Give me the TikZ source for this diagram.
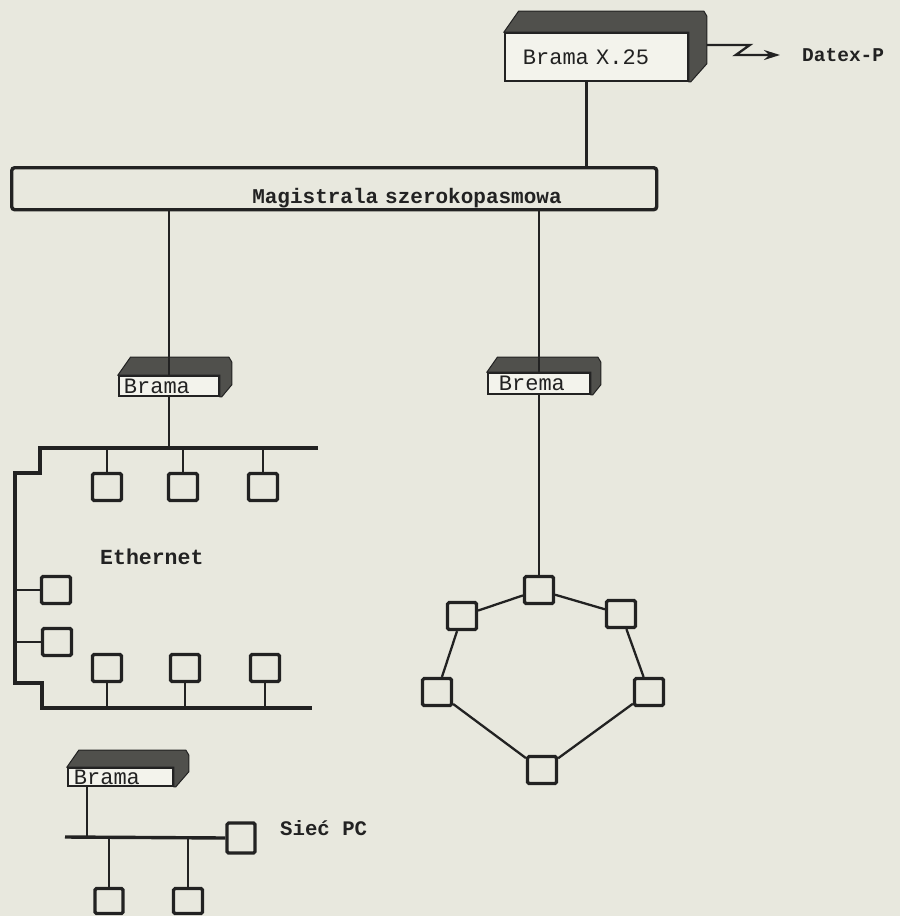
\documentclass[tikz,border=0pt]{standalone}
\usepackage{fontspec}
\setmonofont{Liberation Mono}
\usetikzlibrary{arrows.meta,calc}
\definecolor{paper}{RGB}{232,232,222}
\definecolor{ink}{RGB}{34,34,34}
\definecolor{slabc}{RGB}{80,80,76}
\definecolor{facec}{RGB}{243,243,236}
\newcommand\gateslab[3]{\fill[slab] (#1.north west) -- ++(0.7*#2,-#2) -- ($(#1.north east)+(#3-3,-#2)$) -- ($(#1.north east)+(#3,-#2+5)$) -- ($(#1.south east)+(#3,-#3)$) -- ($(#1.south east)+(2,0)$) -- (#1.south east) -- (#1.north east) -- cycle;}
\begin{document}
\begin{tikzpicture}[x=1pt,y=-1pt,
  sq/.style={draw=ink, fill=paper, line width=3.2pt, rounded corners=1.5pt, minimum width=29pt, minimum height=27pt, inner sep=0pt},
  lan/.style={draw=ink, line width=3.4pt},
  stub/.style={draw=ink, line width=2.3pt},
  ring/.style={draw=ink, line width=2.3pt},
  gate/.style={draw=ink, fill=facec, line width=1.8pt, inner ysep=0pt, anchor=north west, align=left, font=\ttfamily\fontsize{22}{24}\selectfont, text=ink},
  slab/.style={fill=slabc, draw=ink, line width=1pt},
  lbl/.style={font=\ttfamily\bfseries\fontsize{21.5}{24}\selectfont, text=ink, inner sep=0pt},
  busbox/.style={draw=ink, fill=paper, line width=3.4pt, rounded corners=3pt, anchor=north west, minimum width=645pt, minimum height=42pt, inner xsep=95pt, inner ysep=0pt, text width=455pt, align=right, text height=30pt, text depth=0pt, font=\ttfamily\bfseries\fontsize{21}{24}\selectfont, text=ink},
]
\fill[paper] (0,0) rectangle (900,916);
\useasboundingbox (0,0) rectangle (900,916);

% gateways
\node[gate, minimum width=183pt, minimum height=48pt, inner xsep=18pt, text width=147pt] (x25) at (504,32) {Brama X.25};
\gateslab{x25}{21}{18}
\node[gate, minimum height=20pt, inner xsep=5pt, text width=90pt] (lb) at (118,375) {Brama};
\gateslab{lb}{18}{12}
\node[gate, minimum height=21pt, inner xsep=11pt, text width=80pt] (rb) at (487,372) {Brema};
\gateslab{rb}{15}{10}
\node[gate, minimum height=18pt, inner xsep=6pt, text width=93pt] (bb) at (67,767) {Brama};
\gateslab{bb}{17}{15}

% backbone
\node[busbox] (bus) at (10,166) {Magistrala szerokopasmowa};

% Datex-P
\node[lbl, anchor=west, font=\ttfamily\bfseries\fontsize{19.5}{22}\selectfont] (dx) at (802,55) {Datex-P};
\coordinate (zs) at ($(x25.north east)+(18,13)$);
\draw[stub, -{Stealth[length=16pt,width=10pt]}, shorten >=22pt] (zs) -- ++(43,0) -- ++(-14,10) -- (dx.west);

% links to backbone
\coordinate (xc) at ($(x25.south)+(-10,0)$);
\draw[stub] (xc) -- (xc |- bus.north);
\draw[stub] (lb.north) -- (lb.north |- bus.south);
\draw[stub] (rb.north) -- (rb.north |- bus.south);

% Ethernet
\coordinate (etl) at (40,448);
\coordinate (etr) at (318,448);
\coordinate (ebl) at (42,708);
\coordinate (ebr) at (312,708);
\coordinate (ewall) at (15,600);
\draw[lan] (etr) -- (etl) -- (40,473) -- (15,473) -- (15,683) -- (42,683) -- (ebl) -- (ebr);
\draw[stub] (lb.south) -- (lb.south |- etl);
\node[sq] (e1) at (107,487) {};
\node[sq] (e2) at (183,487) {};
\node[sq] (e3) at (263,487) {};
\node[sq] (s1) at (56,590) {};
\node[sq] (s2) at (57,642) {};
\node[sq] (b1) at (107,668) {};
\node[sq] (b2) at (185,668) {};
\node[sq] (b3) at (265,668) {};
\foreach \n in {e1,e2,e3} \draw[stub] (\n.north) -- (\n.north |- etl);
\foreach \n in {b1,b2,b3} \draw[stub] (\n.south) -- (\n.south |- ebl);
\foreach \n in {s1,s2} \draw[stub] (\n.west) -- (\n.west -| ewall);
\node[lbl, anchor=west] (eth) at (100,557) {Ethernet};

% ring
\node[sq] (r0) at (539,590) {};
\node[sq] (r1) at (621,614) {};
\node[sq] (r2) at (649,692) {};
\node[sq] (r3) at (542,770) {};
\node[sq] (r4) at (437,692) {};
\node[sq] (r5) at (462,616) {};
\draw[ring] (r0) -- (r1);
\draw[ring] (r1) -- (r2);
\draw[ring] (r2) -- (r3);
\draw[ring] (r3) -- (r4);
\draw[ring] (r4) -- (r5);
\draw[ring] (r5) -- (r0);
\draw[stub] (rb.south) -- (rb.south |- r0.north);

% PC network
\coordinate (bbl) at ($(bb.south west)+(20,0)$);
\coordinate (pbus) at (65,837);
\node[sq, minimum width=28pt, minimum height=30pt] (pc) at (241,838) {};
\node[sq, minimum width=28pt, minimum height=25pt] (q1) at (109,901) {};
\node[sq, minimum width=29pt, minimum height=25pt] (q2) at (188,901) {};
\draw[lan] (pbus) -- (pc.west);
\draw[stub] (bbl) -- (bbl |- pbus);
\draw[stub] (q1.north) -- (q1.north |- pbus);
\draw[stub] (q2.north) -- (q2.north |- pbus);
\node[lbl, anchor=west, font=\ttfamily\bfseries\fontsize{20.7}{24}\selectfont] (pcl) at (280,828) {Sieć PC};
\end{tikzpicture}
\end{document}
